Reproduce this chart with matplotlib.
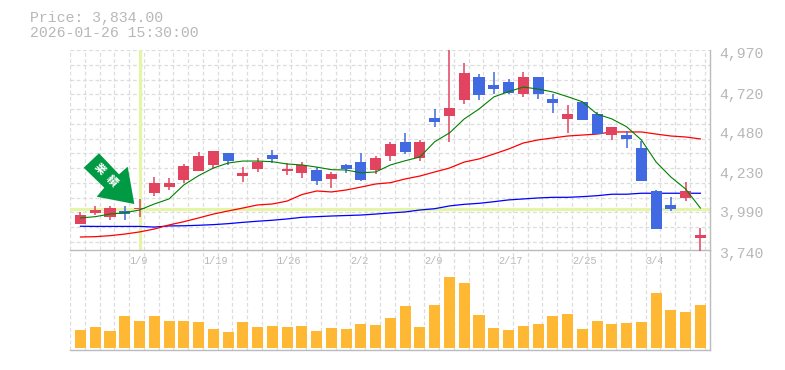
import numpy as np
import matplotlib
matplotlib.use("Agg")
import matplotlib.pyplot as plt
from matplotlib.patches import Polygon

# ---- data ----
opens = [3902,3968,3945,3980,3992,4092,4127,4171,4226,4263,4337,4197,4238,4324,4226,4214,4232,4177,4263,4281,4232,4318,
         4404,4306,4552,4564,4663,4804,4755,4773,4699,4804,4669,4546,4650,4576,4447,4447,4367,4103,4017,4060,3814]
closes = [3955,3986,3996,3960,3998,4152,4152,4257,4318,4349,4287,4214,4281,4300,4238,4263,4164,4207,4238,4171,4306,4392,
          4343,4404,4527,4613,4829,4693,4730,4706,4804,4699,4644,4576,4540,4453,4496,4423,4164,3869,3992,4103,3834]
highs = [3974,4011,4011,4011,4054,4189,4183,4269,4343,4349,4337,4250,4306,4355,4275,4281,4250,4220,4269,4337,4318,4404,
         4460,4417,4607,4970,4890,4822,4835,4792,4835,4804,4699,4632,4650,4589,4496,4472,4410,4109,4066,4158,3875]
lows = [3902,3955,3925,3925,3943,4074,4111,4152,4226,4238,4263,4158,4220,4275,4201,4183,4140,4121,4214,4164,4207,4287,
        4330,4287,4496,4404,4638,4663,4699,4699,4681,4669,4583,4460,4540,4453,4417,4367,4164,3869,3980,4041,3734]
ma_short = [3937,3945,3961,3969,3986,4023,4054,4140,4197,4244,4275,4287,4287,4283,4269,4263,4250,4234,4232,4215,4220,4263,
            4289,4312,4406,4460,4546,4607,4681,4714,4742,4730,4712,4683,4652,4576,4546,4498,4417,4281,4189,4115,3998]
ma_mid = [3820,3822,3828,3838,3851,3869,3894,3914,3937,3961,3980,3998,4017,4023,4041,4081,4103,4097,4109,4127,4146,4154,
          4177,4195,4220,4244,4281,4300,4330,4361,4398,4417,4429,4441,4447,4453,4466,4466,4466,4453,4441,4435,4423]
ma_long = [3886,3885,3885,3885,3885,3881,3888,3889,3892,3896,3902,3910,3917,3923,3931,3941,3945,3949,3952,3955,3961,3968,
           3974,3986,3994,4011,4021,4027,4037,4048,4054,4060,4064,4064,4068,4074,4083,4083,4089,4089,4089,4089,4089]
volume = [18,21,17,32,27,32,27,27,26,19,16,26,21,22,21,22,17,20,19,24,23,30,
          42,21,43,71,65,33,20,18,22,24,32,34,19,27,24,25,26,55,38,36,43]
price_ticks = [3740, 3990, 4230, 4480, 4720, 4970]
date_idx = [4, 9, 14, 19, 24, 29, 34, 39]
date_labels = ["1/9", "1/19", "1/26", "2/2", "2/9", "2/17", "2/25", "3/4"]
cross_idx = 4
cross_price = 3995
title_lines = ["Price: 3,834.00", "2026-01-26 15:30:00"]
banner_text = "業績"

# ---- style ----
W, H = 785, 370
TXT = "#b8b8b8"; GRID = "#dddddd"; AXIS = "#bbbbbb"
RED = "#e2435f"; BLUE = "#4169e1"; VOL = "#ffb833"; CROSS = "#e4f5a8"; ARROW = "#009944"
MONO = "Liberation Mono"

def fx(x): return x / W
def fy(y): return 1 - y / H

fig = plt.figure(figsize=(W / 100, H / 100), dpi=100, facecolor="white")
ax = fig.add_axes([fx(70), fy(250), 640 / W, 200 / H])
av = fig.add_axes([fx(70), fy(350), 640 / W, 100 / H], sharex=ax)

n = len(opens)
idx = np.arange(n)
ax.set_xlim(-0.71, 42.65)
ax.set_ylim(3740, 4970)
av.set_ylim(-2, 98)

grid_x = np.arange(-0.71, 42.6, 1.0)
grid_y = np.arange(4970, 3740, -90.8)
dash = (0, (3, 2))
for a in (ax, av):
    a.patch.set_alpha(0)
    a.vlines(grid_x, *a.get_ylim(), color=GRID, lw=0.9, linestyle=dash, zorder=0)
    a.tick_params(left=False, right=False, top=False, bottom=False, labelleft=False, labelbottom=False)
    for s in a.spines.values():
        s.set_visible(False)
    a.spines["right"].set_visible(True)
    a.spines["bottom"].set_visible(True)
    a.spines["right"].set_color(AXIS)
    a.spines["bottom"].set_color(AXIS)
    a.spines["right"].set_linewidth(1.0)
    a.spines["bottom"].set_linewidth(1.0)
ax.hlines(grid_y, -0.71, 42.65, color=GRID, lw=0.9, linestyle=dash, zorder=0)

# crosshair
ax.axvline(cross_idx, color=CROSS, lw=2.3, zorder=1)
ax.axhline(cross_price, color=CROSS, lw=2.3, zorder=1)

# moving averages
ax.plot(idx, ma_long, color="#0000ff", lw=0.9, zorder=2)
ax.plot(idx, ma_mid, color="#ff0000", lw=0.9, zorder=2)

# candles
colors = [RED if c >= o else BLUE for o, c in zip(opens, closes)]
bottoms = [min(o, c) for o, c in zip(opens, closes)]
heights = [max(abs(c - o), 6) for o, c in zip(opens, closes)]
ax.vlines(idx, lows, highs, colors=colors, lw=1.1, zorder=3, clip_on=False)
ax.bar(idx, heights, bottom=bottoms, width=0.75, color=colors, linewidth=0, zorder=3)
ax.plot(idx, ma_short, color="#008000", lw=0.8, zorder=4)

# volume
av.bar(idx, volume, width=0.75, color=VOL, linewidth=0, zorder=2)

# texts
for y, s in zip((18, 33), title_lines):
    fig.text(fx(30), fy(y), s, family=MONO, fontsize=10.7, color=TXT, va="center", ha="left")
for p in price_ticks:
    ax.annotate(f"{p:,}", xy=(1, p), xycoords=("axes fraction", "data"), xytext=(9, -4),
                textcoords=("offset pixels"), family=MONO, fontsize=10.7, color=TXT,
                va="center", ha="left", annotation_clip=False)
for i, s in zip(date_idx, date_labels):
    ax.annotate(s, xy=(i - 0.71, 0), xycoords=("data", "axes fraction"), xytext=(0, -11),
                textcoords="offset pixels", family=MONO, fontsize=7.4, color=TXT,
                va="center", ha="left", annotation_clip=False)

# banner arrow
pts = [(99, 153.3), (83.7, 167.7), (104.3, 187.7), (96.7, 196.7), (134.3, 204), (127.7, 166.7), (119, 174.3)]
fig.add_artist(Polygon([(fx(x), fy(y)) for x, y in pts], closed=True, transform=fig.transFigure,
                       facecolor=ARROW, edgecolor="none", zorder=6))
for ch, (x, y) in zip(banner_text, [(100, 169), (112.3, 181)]):
    fig.text(fx(x), fy(y), ch, family="Noto Sans CJK JP", fontweight="bold", fontsize=8, color="white",
             rotation=-45, rotation_mode="anchor", ha="center", va="center", zorder=7)

fig.savefig("out.png", dpi=100, facecolor="white")
